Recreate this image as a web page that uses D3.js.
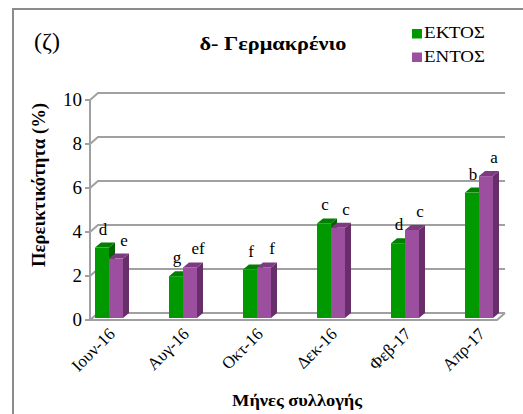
<!DOCTYPE html>
<html>
<head>
<meta charset="utf-8">
<script src="https://cdn.jsdelivr.net/npm/d3@7"></script>
</head>
<body style="margin:0">
<svg id="chart" width="523" height="414" font-family="Liberation Serif"></svg>
<script>
// Collection months and series
const months = ["Ιουν-16", "Αυγ-16", "Οκτ-16", "Δεκ-16", "Φεβ-17", "Απρ-17"];
const seriesNames = ["ΕΚΤΟΣ", "ΕΝΤΟΣ"];
const ektos = [3.2, 1.9, 2.2, 4.3, 3.4, 5.7];
const entos = [2.7, 2.3, 2.3, 4.1, 4.0, 6.45];
const ektosLetters = ["d", "g", "f", "c", "d", "b"];
const entosLetters = ["e", "ef", "f", "c", "c", "a"];
const yTicks = [0, 2, 4, 6, 8, 10];

const FONT = "Liberation Serif";

const colors = {
  "ΕΚΤΟΣ": { front: "#009900", top: "#007f00", side: "#006400" },
  "ΕΝΤΟΣ": { front: "#9c4f9f", top: "#7d3a80", side: "#682e6a" }
};

const svg = d3.select("#chart");

// serif text helper
function label(parent) {
  return parent.append("text")
    .attr("font-family", FONT)
    .style("font-family", FONT)
    .attr("fill", "#000");
}

// Outer frame
svg.append("rect")
  .attr("x", 13).attr("y", 9).attr("width", 600).attr("height", 500)
  .attr("fill", "none").attr("stroke", "#8c8c8c").attr("stroke-width", 2);

// 3D geometry: wall depth offset and bar depth offset
const wall = { dx: 8, dy: -7 };
const barDepth = { dx: 6, dy: -5 };
const axisX = 90, floorFrontRight = 497;

// Value scales for the front axis plane, the back wall and the bar faces
const yAxis = d3.scaleLinear().domain([0, 10]).range([320, 100]);
const yBack = d3.scaleLinear().domain([0, 10]).range([320 + wall.dy, 100 + wall.dy]);
const yBar = d3.scaleLinear().domain([0, 10]).range([318, 98]);

const x = d3.scaleBand().domain(months).range([72, 72 + 444]).paddingInner(0).paddingOuter(0);
const xs = d3.scaleBand().domain(seriesNames).range([-14, 14]);

const grid = svg.append("g");
// back wall gridlines with the diagonal link to the axis
yTicks.forEach(t => {
  grid.append("path")
    .attr("d", `M${axisX},${yAxis(t)} L${axisX + wall.dx},${yBack(t)} L${floorFrontRight + wall.dx},${yBack(t)}`)
    .attr("fill", "none").attr("stroke", "#a0a0a0").attr("stroke-width", 2);
});
// floor
grid.append("path")
  .attr("d", `M${axisX - 5},${yAxis(0)} L${floorFrontRight},${yAxis(0)} L${floorFrontRight + wall.dx},${yBack(0)}`)
  .attr("fill", "none").attr("stroke", "#a0a0a0").attr("stroke-width", 2);
// left wall edge
grid.append("line")
  .attr("x1", axisX).attr("x2", axisX).attr("y1", yAxis(10)).attr("y2", yAxis(0))
  .attr("stroke", "#a0a0a0").attr("stroke-width", 2);
// tick marks
yTicks.forEach(t => {
  grid.append("line")
    .attr("x1", axisX - 5).attr("x2", axisX).attr("y1", yAxis(t)).attr("y2", yAxis(t))
    .attr("stroke", "#a0a0a0").attr("stroke-width", 2);
});

// y tick labels
yTicks.forEach(t => {
  label(svg)
    .attr("x", 82).attr("y", yAxis(t) + 6)
    .attr("text-anchor", "end")
    .attr("font-size", 19)
    .text(t);
});

// bars
const rows = months.map((m, i) => ({ month: m, vals: [
  { s: "ΕΚΤΟΣ", v: ektos[i], letter: ektosLetters[i] },
  { s: "ΕΝΤΟΣ", v: entos[i], letter: entosLetters[i] }
]}));

const bars = svg.append("g");
rows.forEach(r => {
  const cx = x(r.month) + x.bandwidth() / 2;
  r.vals.forEach(d => {
    const x0 = cx + xs(d.s), w = xs.bandwidth();
    const y0 = yBar(0), y1 = yBar(d.v);
    const c = colors[d.s];
    const g = bars.append("g");
    // side face
    g.append("path")
      .attr("d", `M${x0 + w},${y0} L${x0 + w},${y1} L${x0 + w + barDepth.dx},${y1 + barDepth.dy} L${x0 + w + barDepth.dx},${y0 + barDepth.dy} Z`)
      .attr("fill", c.side);
    // top face
    g.append("path")
      .attr("d", `M${x0},${y1} L${x0 + w},${y1} L${x0 + w + barDepth.dx},${y1 + barDepth.dy} L${x0 + barDepth.dx},${y1 + barDepth.dy} Z`)
      .attr("fill", c.top);
    // front face
    g.append("rect")
      .attr("x", x0).attr("y", y1).attr("width", w).attr("height", y0 - y1)
      .attr("fill", c.front);
  });
});

// significance letters
rows.forEach(r => {
  const cx = x(r.month) + x.bandwidth() / 2;
  r.vals.forEach(d => {
    const off = d.s === "ΕΚΤΟΣ" ? 1 : 8;
    label(svg)
      .attr("x", cx + xs(d.s) + xs.bandwidth() / 2 + off)
      .attr("y", yBar(d.v) - 13)
      .attr("text-anchor", "middle")
      .attr("font-size", 17)
      .text(d.letter);
  });
});

// x tick labels, rotated 45 degrees, ending at each category
months.forEach(m => {
  const g = svg.append("g")
    .attr("transform", `translate(${x(m) + x.bandwidth() / 2 + 7},335) rotate(-45)`);
  label(g)
    .attr("x", 0).attr("y", 0)
    .attr("text-anchor", "end")
    .attr("font-size", 17)
    .text(m);
});

// titles
label(svg)
  .attr("x", 47).attr("y", 49)
  .attr("text-anchor", "middle")
  .attr("font-size", 24)
  .text("(ζ)");

label(svg)
  .attr("x", 273).attr("y", 50)
  .attr("text-anchor", "middle")
  .attr("font-size", 18).attr("font-weight", "bold")
  .attr("textLength", 147).attr("lengthAdjust", "spacingAndGlyphs")
  .text("δ- Γερμακρένιο");

label(svg.append("g").attr("transform", "translate(45,185) rotate(-90)"))
  .attr("x", 0).attr("y", 0)
  .attr("text-anchor", "middle")
  .attr("font-size", 18).attr("font-weight", "bold")
  .attr("textLength", 164).attr("lengthAdjust", "spacingAndGlyphs")
  .text("Περεικτικότητα (%)");

label(svg)
  .attr("x", 297).attr("y", 406)
  .attr("text-anchor", "middle")
  .attr("font-size", 16).attr("font-weight", "bold")
  .attr("textLength", 130).attr("lengthAdjust", "spacingAndGlyphs")
  .text("Μήνες συλλογής");

// legend
seriesNames.forEach((s, i) => {
  svg.append("rect")
    .attr("x", 412).attr("y", 29 + i * 23.5).attr("width", 10).attr("height", 9.5)
    .attr("fill", colors[s].front);
  label(svg)
    .attr("x", 424).attr("y", 38 + i * 24)
    .attr("font-size", 16)
    .attr("textLength", 61).attr("lengthAdjust", "spacingAndGlyphs")
    .text(s);
});
</script>
</body>
</html>
